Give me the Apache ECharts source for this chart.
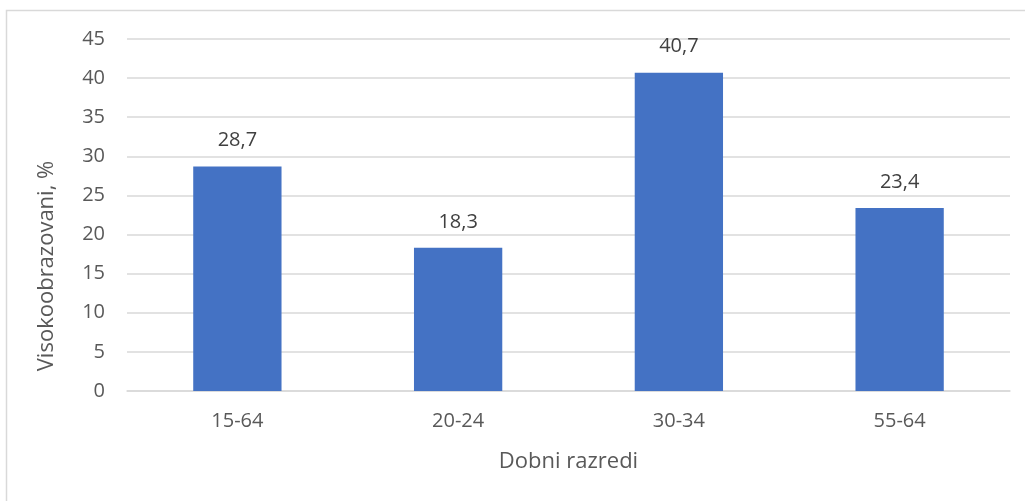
<!DOCTYPE html>
<html>
<head>
<meta charset="utf-8">
<script src="https://cdn.jsdelivr.net/npm/echarts@6/dist/echarts.min.js"></script>
<style>
  html, body { margin: 0; padding: 0; background: #ffffff; }
  #chart { width: 1025px; height: 501px; }
</style>
</head>
<body>
<div id="chart"></div>
<script>
// Age groups and share of highly educated people (%)
const categories = ['15-64', '20-24', '30-34', '55-64'];
const values = [28.7, 18.3, 40.7, 23.4];
const yTicks = { min: 0, max: 45, interval: 5 };
const xTitle = 'Dobni razredi';
const yTitle = 'Visokoobrazovani, %';

const FONT = '"Open Sans", "Liberation Sans", sans-serif';

const chart = echarts.init(document.getElementById('chart'), null, { renderer: 'canvas' });

chart.setOption({
  animation: false,
  backgroundColor: '#ffffff',
  grid: { left: 127, right: 15, top: 39, bottom: 110, containLabel: false },
  graphic: [
    {
      type: 'rect',
      silent: true,
      shape: { x: 6.5, y: 10.5, width: 1040, height: 520 },
      style: { fill: 'none', stroke: '#d9d9d9', lineWidth: 1.5 }
    },
    {
      type: 'text',
      silent: true,
      x: 47,
      y: 266,
      rotation: Math.PI / 2,
      style: {
        text: yTitle,
        fill: '#595959',
        font: '22px ' + FONT,
        align: 'center',
        verticalAlign: 'middle'
      }
    }
  ],
  xAxis: {
    type: 'category',
    data: categories,
    name: xTitle,
    nameLocation: 'middle',
    nameGap: 60,
    nameTextStyle: { color: '#595959', fontSize: 22, fontFamily: FONT },
    axisLine: { show: true, lineStyle: { color: '#d9d9d9', width: 1.5 } },
    axisTick: { show: false },
    axisLabel: { color: '#595959', fontSize: 20, fontFamily: FONT, margin: 20 }
  },
  yAxis: {
    type: 'value',
    min: yTicks.min,
    max: yTicks.max,
    interval: yTicks.interval,
    axisLine: { show: false },
    axisTick: { show: false },
    axisLabel: { color: '#595959', fontSize: 20, fontFamily: FONT, margin: 22 },
    splitLine: { lineStyle: { color: '#d9d9d9', width: 1.5 } }
  },
  series: [
    {
      type: 'bar',
      data: values,
      barCategoryGap: '60%',
      itemStyle: { color: '#4472C4' },
      label: {
        show: true,
        position: 'top',
        distance: 16,
        color: '#404040',
        fontSize: 20,
        fontFamily: FONT,
        formatter: p => p.value.toFixed(1).replace('.', ',')
      }
    }
  ]
});
</script>
</body>
</html>
